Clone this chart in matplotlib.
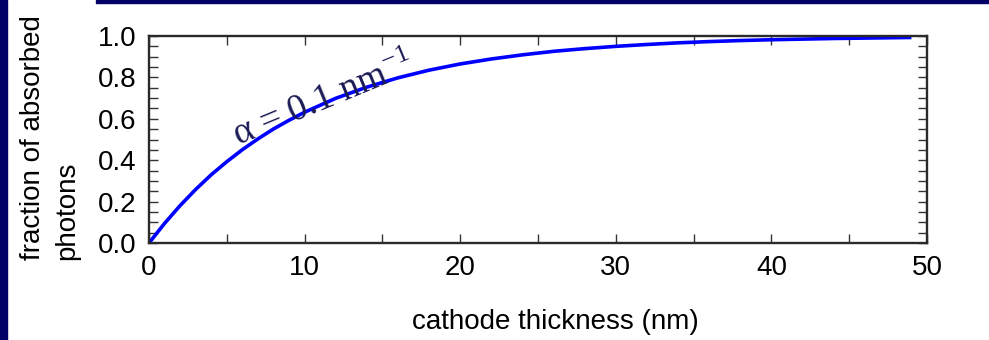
import numpy as np
import matplotlib
matplotlib.use("Agg")
from matplotlib import pyplot as plt
from matplotlib.ticker import MultipleLocator

# absorbed fraction vs cathode thickness, alpha = 0.1 / nm
thickness = [0, 1, 2, 3, 4, 5, 6, 7, 8, 9, 10, 12, 14, 16, 18, 20, 22, 24, 26, 28,
             30, 32, 34, 36, 38, 40, 42, 44, 46, 48, 49]
absorbed = [0.0, 0.095, 0.181, 0.259, 0.330, 0.393, 0.451, 0.503, 0.551, 0.593,
            0.632, 0.699, 0.753, 0.798, 0.835, 0.865, 0.889, 0.909, 0.926, 0.939,
            0.950, 0.959, 0.967, 0.973, 0.978, 0.982, 0.985, 0.988, 0.990, 0.992, 0.993]

xticks = [0, 10, 20, 30, 40, 50]
yticks = [0.0, 0.2, 0.4, 0.6, 0.8, 1.0]

plt.rcParams['font.family'] = ['Liberation Sans', 'DejaVu Sans']
plt.rcParams['mathtext.fontset'] = 'stix'

fig = plt.figure(figsize=(9.89, 3.40), dpi=100)
ax = fig.add_axes([0.1507, 0.2853, 0.7866, 0.6088])

navy = '#000066'
# slide frame
fig.patches.append(plt.Rectangle((0, 0), 0.007, 1, transform=fig.transFigure,
                                 color=navy, zorder=0))
fig.patches.append(plt.Rectangle((0.097, 0.99), 0.903, 0.01, transform=fig.transFigure,
                                 color=navy, zorder=0))

ax.plot(thickness, absorbed, color='#0000ff', lw=2.6, solid_capstyle='butt')

ax.set_xlim(0, 50)
ax.set_ylim(0, 1.0)
ax.set_xticks(xticks)
ax.set_yticks(yticks)
ax.set_xticklabels([str(t) for t in xticks])
ax.set_yticklabels(["%.1f" % t for t in yticks])
ax.xaxis.set_minor_locator(MultipleLocator(5))
ax.yaxis.set_minor_locator(MultipleLocator(0.05))
ax.tick_params(which='both', direction='in', top=True, right=True,
               length=6.5, width=1.0, color='#333333', labelsize=20, pad=9)
for s in ax.spines.values():
    s.set_color('#2a2a2a')
    s.set_linewidth(1.7)

ax.set_xlabel("cathode thickness (nm)", fontsize=20)
ax.xaxis.set_label_coords(0.522, -0.32)
fig.text(0.051, 1 - 138 / 340, "fraction of absorbed\nphotons", rotation=90,
         ha='center', va='center', multialignment='left', fontsize=20, linespacing=1.4)

ax.text(5.75, 0.47, r"α = 0.1 nm$^{\mathregular{-1}}$", rotation=22.5,
        rotation_mode='anchor', ha='left', va='baseline', fontsize=27,
        family='Liberation Serif', color='#1a1a55')

plt.savefig('out.png', dpi=100)
